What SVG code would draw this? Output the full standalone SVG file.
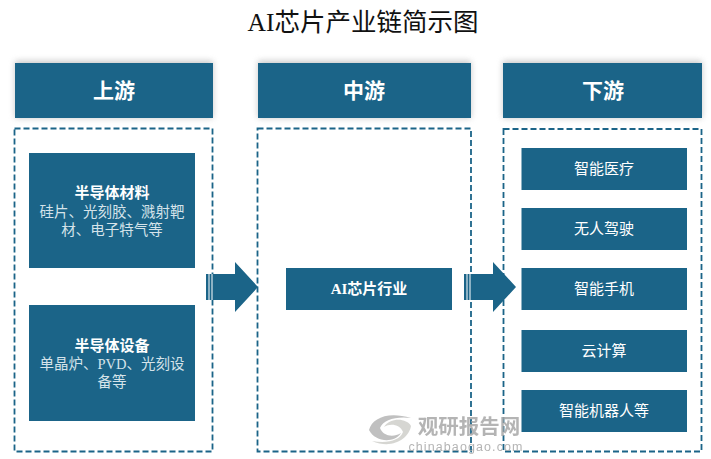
<svg xmlns="http://www.w3.org/2000/svg" width="711" height="459" viewBox="0 0 711 459">
<style>
text{font-family:"Liberation Serif","Noto Sans CJK SC",serif;text-anchor:middle}
.b{fill:#1b6488}
.h{font-size:21px;fill:#fff;font-weight:bold}
.t{font-size:15px;fill:#fff}
.s{font-size:14.500px;fill:#d5e3ea}
.d{fill:#fff;stroke:#1b6488;stroke-width:1.8;stroke-dasharray:6 3}
.w{stroke:#fff;stroke-width:1}
</style>
<defs><filter id="sh" x="-10%" y="-20%" width="120%" height="140%"><feGaussianBlur stdDeviation="3"/></filter></defs>
<rect width="711" height="459" fill="#fff"/>
<text x="363" y="31" font-size="25.500" fill="#111">AI芯片产业链简示图</text>
<g id="upstream">
<rect x="15" y="61" width="198" height="57" fill="#999" opacity=".55" filter="url(#sh)"/>
<rect class="b" x="15" y="63" width="198" height="55"/>
<text class="h" x="114" y="98">上游</text>
<rect class="d" x="14.500" y="128.500" width="198" height="323"/>
</g>
<g id="midstream">
<rect x="258" y="61" width="213" height="57" fill="#999" opacity=".55" filter="url(#sh)"/>
<rect class="b" x="258" y="63" width="213" height="55"/>
<text class="h" x="364" y="98">中游</text>
<rect class="d" x="257.500" y="128.500" width="213.500" height="323"/>
</g>
<g id="downstream">
<rect x="503" y="61" width="199" height="57" fill="#999" opacity=".55" filter="url(#sh)"/>
<rect class="b" x="503" y="63" width="199" height="55"/>
<text class="h" x="603" y="98">下游</text>
<rect class="d" x="503.500" y="129" width="198" height="322.500"/>
</g>
<g id="materials">
<rect class="b" x="29" y="153" width="166" height="115"/>
<text class="t" x="112" y="198" font-weight="bold">半导体材料</text>
<text class="s" x="112" y="217">硅片、光刻胶、溅射靶</text>
<text class="s" x="112" y="235">材、电子特气等</text>
</g>
<g id="equipment">
<rect class="b" x="29" y="305" width="166" height="116"/>
<text class="t" x="112" y="351" font-weight="bold">半导体设备</text>
<text class="s" x="112" y="369">单晶炉、PVD、光刻设</text>
<text class="s" x="112" y="387">备等</text>
</g>
<g id="ai-chip">
<rect class="b" x="286" y="268" width="166" height="42"/>
<text class="t" x="369" y="294" font-weight="bold">AI芯片行业</text>
</g>
<g id="medical"><rect class="b" x="521.500" y="148" width="165.500" height="42"/><text class="t" x="604" y="174">智能医疗</text></g>
<g id="driving"><rect class="b" x="521.500" y="208" width="165.500" height="42"/><text class="t" x="604" y="234">无人驾驶</text></g>
<g id="phone"><rect class="b" x="521.500" y="268" width="165.500" height="42"/><text class="t" x="604" y="294">智能手机</text></g>
<g id="cloud"><rect class="b" x="521.500" y="330" width="165.500" height="42"/><text class="t" x="604" y="356">云计算</text></g>
<g id="robot"><rect class="b" x="521.500" y="390" width="165.500" height="42"/><text class="t" x="604" y="416">智能机器人等</text></g>
<g id="connectors">
<path class="b" d="M206 274H235V262L258 287 235 312V300H206Z"/>
<path class="w" d="M209 274V300M212 274V300"/>
<path class="b" d="M464 274H493V262L516 287 493 312V300H464Z"/>
<path class="w" d="M467 274V300M470 274V300"/>
</g>
<g id="watermark">
<path d="M369 430C372 418 388 411 411 418C396 416 383 420 380 428C383 436 393 438 401 433C394 444 375 442 369 430Z" fill="#b5b5b5" opacity=".85"/>
<path d="M411 426C409 438 393 450 372 441C388 444 400 440 403 432C400 424 390 423 384 427C390 417 407 418 411 426Z" fill="#cfcfca" opacity=".85"/>
<text x="469" y="433.500" font-size="20.500" font-weight="bold" fill="#a8a8a8" opacity=".85" style="font-family:'Noto Sans CJK SC',sans-serif">观研报告网</text>
<text x="466" y="451" font-size="12.500" fill="#a8a8a8" opacity=".85" style="font-family:'Liberation Sans',sans-serif" letter-spacing="1.100">chinabaogao.com</text>
</g>
</svg>
